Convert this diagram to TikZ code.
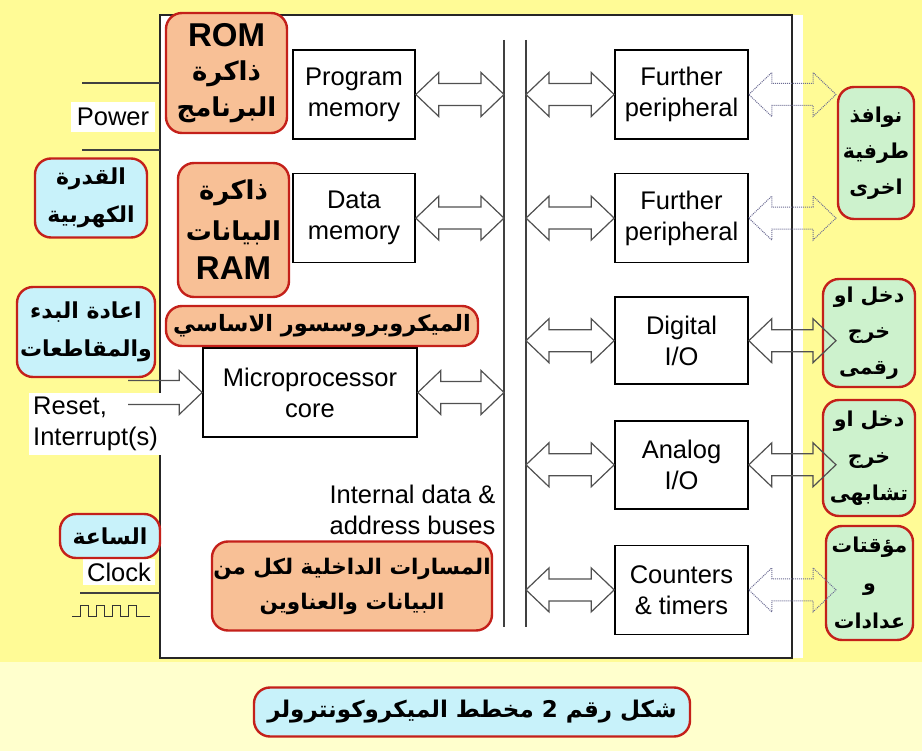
\documentclass[tikz,border=0pt]{standalone}
\usepackage{fontspec}
\setmainfont{Liberation Sans}
\newfontfamily\arabicfont[Script=Arabic]{DejaVu Sans}
\TeXXeTstate=1
\usetikzlibrary{calc,positioning}

\definecolor{bgyellow}{RGB}{255,251,150}
\definecolor{paleyellow}{RGB}{255,255,205}
\definecolor{noteorange}{RGB}{248,192,150}
\definecolor{notecyan}{RGB}{200,242,250}
\definecolor{notegreen}{RGB}{205,242,205}
\definecolor{notered}{RGB}{196,32,26}
\definecolor{arrowgray}{RGB}{80,80,80}

\newcommand{\lbl}{\fontsize{25.5}{31}\selectfont}
\newcommand{\artext}[1]{{\arabicfont\bfseries\beginR #1\endR}}
\newcommand{\bigword}[1]{{\fontsize{33}{36}\selectfont\bfseries #1}}

% hollow double arrow between two points at the same height
\newcommand{\busarrow}[3][]{%
  \draw[hollow,#1] let \p1=(#2), \p2=(#3) in
    (\x1,\y1) -- (\x1+23pt,\y1+22pt) -- (\x1+23pt,\y1+11pt) -- (\x2-23pt,\y1+11pt)
    -- (\x2-23pt,\y1+22pt) -- (\x2,\y1) -- (\x2-23pt,\y1-22pt) -- (\x2-23pt,\y1-11pt)
    -- (\x1+23pt,\y1-11pt) -- (\x1+23pt,\y1-22pt) -- cycle;}

\begin{document}
\begin{tikzpicture}[x=1pt,y=-1pt,
    block/.style={draw,line width=1.6pt,minimum width=122pt,minimum height=89pt,align=center,font=\lbl,fill=white},
    wide block/.style={block,minimum width=133pt},
    note/.style={draw=notered,line width=2.4pt,rounded corners=16pt,align=center,inner sep=0pt},
    ornote/.style={note,fill=noteorange},
    cynote/.style={note,fill=notecyan},
    grnote/.style={note,fill=notegreen},
    label/.style={font=\lbl,fill=white,inner sep=4pt},
    hollow/.style={draw=arrowgray,line width=1.2pt,fill=white,line join=miter},
    faint/.style={draw=gray!85!blue,line width=1pt,densely dotted,fill=none}]

  % background and outline of the chip
  \useasboundingbox (0,0) rectangle (922,751);
  \fill[bgyellow] (0,0) rectangle (922,751);
  \fill[paleyellow] (0,662) rectangle (922,751);
  \fill[white] (160,15) rectangle (803,658);
  \draw[line width=1.8pt,black!85] (160,15) rectangle (792,658);

  % internal buses
  \coordinate (busL) at (504,40);
  \coordinate (busR) at (526,40);
  \coordinate (ports) at (836,40);
  \draw[line width=1.3pt,black!75] (busL) -- (504,627);
  \draw[line width=1.3pt,black!75] (busR) -- (526,627);

  % blocks
  \node[block] (prog) at (354,94.5) {Program\\memory};
  \node[block] (data) [below=33pt of prog] {Data\\memory};
  \node[block,minimum width=214pt] (core) at (310,392.5) {Microprocessor\\core};
  \node[wide block] (per1) at (681.5,94.5) {Further\\peripheral};
  \node[wide block] (per2) [below=33pt of per1] {Further\\peripheral};
  \node[wide block,minimum height=87pt] (dio) [below=33pt of per2] {Digital\\I/O};
  \node[wide block,minimum height=88pt] (aio) [below=35pt of dio] {Analog\\I/O};
  \node[wide block] (ctm) [below=35pt of aio] {Counters\\\& timers};

  % bus arrows
  \busarrow{prog.east}{prog.east -| busL}
  \busarrow{data.east}{data.east -| busL}
  \busarrow{core.east}{core.east -| busL}
  \busarrow{per1.west -| busR}{per1.west}
  \busarrow{per2.west -| busR}{per2.west}
  \busarrow{dio.west -| busR}{dio.west}
  \busarrow{aio.west -| busR}{aio.west}
  \busarrow{ctm.west -| busR}{ctm.west}

  % outside connections
  \node[label,inner sep=6pt] (power) at (113,117) {Power};
  \draw[line width=1.3pt,black!75] (82,83) -- (160,83);
  \draw[line width=1.3pt,black!75] (82,150) -- (160,150);
  \node[label,align=left,anchor=west] (reset) at (29,424) {Reset,\\Interrupt(s)};
  \coordinate (rstin) at (128,392.5);
  \draw[hollow,fill=none] let \p1=(rstin), \p2=(core.west) in
    (\x1,\y2+12pt) -- (\x2-23pt,\y2+12pt) -- (\x2-23pt,\y2+22pt) -- (\x2,\y2)
    -- (\x2-23pt,\y2-22pt) -- (\x2-23pt,\y2-12pt) -- (\x1,\y2-12pt);
  \node[label] (clock) at (119,572) {Clock};
  \draw[line width=1.3pt,black!75] (80,593) -- (160,593);
  \draw[line width=1pt,black!80] (72,616) -- (80,616) -- (80,605) -- (88,605) -- (88,616)
    -- (96,616) -- (96,605) -- (104,605) -- (104,616) -- (112,616) -- (112,605)
    -- (120,605) -- (120,616) -- (128,616) -- (128,605) -- (136,605) -- (136,616) -- (150,616);
  \node[font=\lbl,align=right,anchor=east] (buses) at (499,510) {Internal data \&\\address buses};

  % notes in Arabic
  \node[ornote,minimum width=121pt,minimum height=120pt,font=\fontsize{26}{36}\selectfont] (rom) at (226.5,73)
    {\bigword{ROM}\\[-2pt]\artext{ذاكرة}\\\artext{البرنامج}};
  \node[ornote,minimum width=111pt,minimum height=134pt,font=\fontsize{26}{41}\selectfont] (ram) at (233.5,230)
    {\artext{ذاكرة}\\\artext{البيانات}\\[-2pt]\bigword{RAM}};
  \node[ornote,minimum width=312pt,minimum height=40pt,font=\fontsize{22.5}{30}\selectfont] (cpunote) at (322,326)
    {\artext{الميكروبروسسور الاساسي}};
  \node[ornote,minimum width=280pt,minimum height=89pt,font=\fontsize{21.5}{35}\selectfont] (busnote) at (352,586)
    {\artext{المسارات الداخلية لكل من}\\\artext{البيانات والعناوين}};
  \node[cynote,minimum width=112pt,minimum height=79pt,font=\fontsize{22}{38}\selectfont] (pownote) at (91,198)
    {\artext{القدرة}\\\artext{الكهربية}};
  \node[cynote,minimum width=138pt,minimum height=90pt,font=\fontsize{22}{38}\selectfont] (rstnote) at (86,332)
    {\artext{اعادة البدء}\\\artext{والمقاطعات}};
  \node[cynote,minimum width=100pt,minimum height=44pt,font=\fontsize{22}{30}\selectfont] (clknote) at (110,536)
    {\artext{الساعة}};
  \node[cynote,minimum width=436pt,minimum height=49pt,font=\fontsize{23}{30}\selectfont] (caption) at (472,712)
    {\artext{شكل رقم 2  مخطط الميكروكونترولر}};
  \node[grnote,minimum width=76pt,minimum height=132pt,font=\fontsize{20.5}{36}\selectfont] (portnote) at (876,153)
    {\artext{نوافذ}\\\artext{طرفية}\\\artext{اخرى}};
  \node[grnote,minimum width=92pt,minimum height=108pt,font=\fontsize{20.5}{36}\selectfont] (dionote) at (869,333)
    {\artext{دخل او}\\\artext{خرج}\\\artext{رقمى}};
  \node[grnote,minimum width=92pt,minimum height=116pt,font=\fontsize{20.5}{37}\selectfont] (aionote) at (869,458)
    {\artext{دخل او}\\\artext{خرج}\\\artext{تشابهى}};
  \node[grnote,minimum width=87pt,minimum height=114pt,font=\fontsize{20.5}{38}\selectfont] (ctmnote) at (869.5,583)
    {\artext{مؤقتات}\\\artext{و}\\\artext{عدادات}};

  % port arrows
  \busarrow[faint]{per1.east}{per1.east -| ports}
  \busarrow[faint]{per2.east}{per2.east -| ports}
  \busarrow[fill=none]{dio.east}{dio.east -| ports}
  \busarrow[fill=none]{aio.east}{aio.east -| ports}
  \busarrow[faint]{ctm.east}{ctm.east -| ports}
\end{tikzpicture}
\end{document}
